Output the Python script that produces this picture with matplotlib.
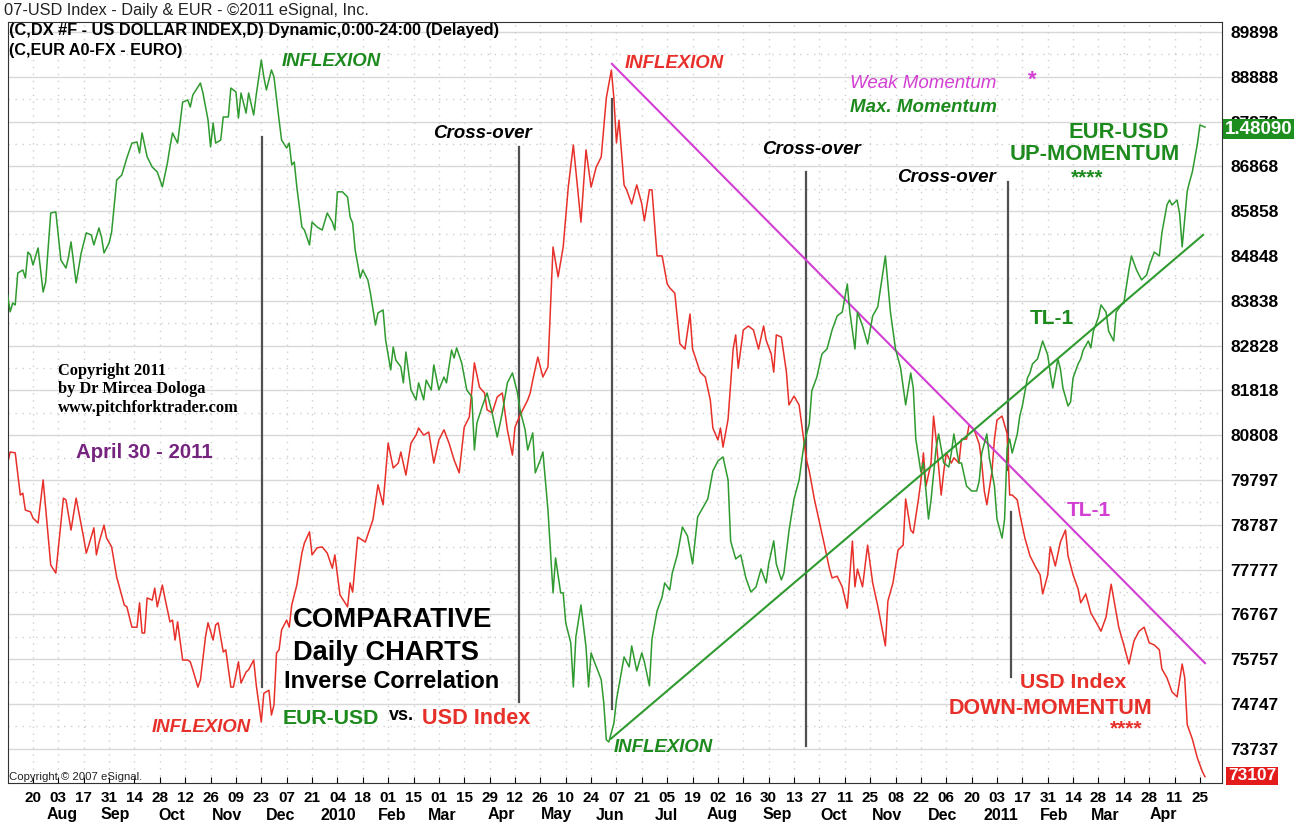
import matplotlib
matplotlib.use('Agg')
import matplotlib.pyplot as plt
import matplotlib.transforms as mtransforms
import pandas as pd
import numpy as np

W, H = 1308, 825

# USD index (red), bar index counted from 2009-07-20 (one bar per business day)
red_bar = [-10, -9, -7, -5, -4, -3, -1, 0, 2, 4, 7, 9, 12, 13, 15, 17, 20, 21, 22, 24, 25, 26, 28, 29, 31, 33, 36, 37,
           39, 41, 42, 43, 44, 45, 47, 48, 49, 51, 52, 54, 55, 56, 57, 59, 61, 62, 63, 65, 66, 68, 69, 71, 72, 73, 75,
           76, 78, 79, 81, 82, 84, 85, 87, 88, 90, 91, 93, 94, 95, 96, 97, 98, 100, 101, 102, 104, 106, 107, 109, 110,
           112, 114, 116, 118, 119, 121, 124, 125, 126, 128, 131, 134, 136, 138, 140, 142, 144, 145, 147, 149, 151,
           152, 154, 156, 158, 160, 162, 164, 166, 168, 170, 172, 174, 176, 178, 179, 181, 183, 185, 187, 189, 190,
           192, 195, 196, 197, 199, 201, 203, 205, 207, 209, 211, 213, 216, 218, 220, 222, 224, 226, 228, 229, 230,
           231, 233, 234, 236, 238, 240, 241, 243, 244, 246, 248, 250, 251, 253, 255, 257, 259, 260, 263, 265, 267,
           268, 270, 271, 272, 274, 276, 277, 278, 280, 282, 284, 286, 288, 289, 291, 292, 293, 295, 297, 298, 300,
           302, 304, 305, 306, 308, 310, 312, 314, 315, 317, 319, 321, 323, 324, 325, 327, 329, 331, 333, 336, 337,
           339, 341, 343, 344, 346, 347, 349, 350, 351, 352, 354, 355, 356, 358, 359, 360, 362, 363, 365, 366, 368,
           369, 371, 373, 374, 375, 376, 378, 379, 380, 382, 384, 385, 386, 388, 389, 391, 393, 395, 397, 398, 400,
           401, 403, 405, 407, 408, 410, 412, 413, 415, 417, 419, 421, 423, 425, 427, 428, 430, 432, 434, 436, 438,
           440, 442, 444, 445, 447, 449, 451, 453, 454, 455, 457, 459, 461, 462]
red_dx = [80.18, 80.43, 80.41, 79.46, 79.50, 79.12, 79.08, 78.94, 78.83, 79.80, 77.88, 77.70, 79.39, 79.35, 78.67,
          79.39, 78.49, 78.15, 78.33, 78.72, 78.11, 78.38, 78.78, 78.49, 78.29, 77.61, 76.98, 76.94, 76.48, 76.48,
          77.03, 76.35, 76.35, 77.14, 77.09, 77.36, 76.94, 77.43, 77.14, 76.60, 76.64, 76.19, 76.60, 75.74, 75.74,
          75.70, 75.52, 75.13, 75.29, 76.26, 76.58, 76.19, 76.53, 76.58, 75.92, 75.97, 75.13, 75.13, 75.70, 75.22,
          75.47, 75.52, 75.74, 75.18, 74.34, 74.99, 75.06, 74.50, 74.73, 75.90, 75.97, 76.42, 76.64, 76.48, 76.98,
          77.43, 78.15, 78.38, 78.63, 78.11, 78.27, 78.29, 78.15, 77.81, 78.11, 77.21, 76.94, 77.48, 77.27, 78.51,
          78.40, 78.90, 79.69, 79.24, 80.63, 80.07, 80.18, 80.43, 79.91, 80.63, 80.81, 80.97, 80.81, 80.88, 80.18,
          80.70, 80.93, 80.63, 80.25, 79.96, 80.99, 81.22, 82.44, 81.89, 81.76, 81.38, 81.31, 81.67, 81.76, 80.93,
          80.36, 80.99, 81.26, 81.60, 81.76, 82.05, 82.57, 82.12, 82.35, 85.05, 84.38, 85.05, 86.40, 87.35, 85.61,
          87.24, 86.40, 86.85, 87.08, 88.41, 89.04, 88.39, 87.40, 87.91, 86.45, 86.34, 86.02, 86.45, 86.02, 85.64,
          86.34, 86.34, 84.85, 84.85, 84.22, 84.13, 84.01, 82.87, 82.75, 83.54, 82.75, 82.23, 82.12, 81.60, 80.97,
          80.70, 80.97, 80.54, 81.17, 82.75, 83.07, 82.32, 83.18, 83.27, 83.18, 82.75, 83.27, 82.95, 82.64, 82.23,
          83.07, 83.02, 82.23, 81.49, 81.69, 81.49, 80.63, 80.23, 80.00, 79.37, 78.85, 78.33, 77.79, 77.59, 77.63,
          77.39, 76.91, 78.42, 77.39, 77.79, 77.39, 78.33, 77.48, 76.96, 76.06, 77.07, 77.48, 78.22, 78.33, 79.37,
          78.67, 78.60, 79.35, 79.78, 80.41, 79.66, 80.18, 81.24, 80.72, 79.46, 79.98, 80.41, 80.18, 80.30, 80.18,
          80.72, 80.72, 81.04, 80.93, 80.61, 80.18, 79.55, 79.24, 79.98, 80.72, 81.15, 81.24, 80.84, 79.46, 79.46,
          79.35, 79.03, 78.49, 78.09, 77.86, 77.66, 77.23, 77.66, 78.29, 77.86, 78.40, 78.67, 78.09, 77.66, 77.34,
          77.03, 77.23, 76.80, 76.60, 76.39, 76.71, 77.45, 76.80, 76.48, 76.08, 75.65, 76.17, 76.39, 76.48, 76.13,
          76.08, 75.97, 75.54, 75.34, 75.02, 74.91, 75.65, 75.34, 74.28, 73.96, 73.53, 73.22, 73.11]

# EUR/USD (green)
eur_bar = [-10, -9, -8, -7, -6, -4, -3, -2, -1, 0, 2, 4, 5, 7, 9, 11, 13, 14, 15, 17, 19, 21, 23, 24, 26, 27, 28, 30,
           31, 33, 35, 37, 39, 41, 42, 43, 45, 47, 49, 51, 53, 54, 55, 57, 59, 61, 62, 63, 65, 66, 67, 69, 70, 71, 72,
           74, 75, 77, 78, 80, 81, 82, 84, 85, 87, 88, 90, 91, 92, 94, 95, 97, 98, 100, 101, 102, 103, 104, 106, 107,
           109, 110, 112, 114, 116, 118, 119, 120, 122, 124, 125, 126, 127, 129, 130, 132, 133, 135, 136, 138, 139,
           141, 142, 143, 145, 146, 147, 149, 151, 152, 154, 155, 157, 158, 160, 162, 163, 165, 166, 167, 169, 171,
           173, 174, 175, 177, 179, 181, 183, 185, 187, 189, 191, 192, 194, 195, 197, 198, 200, 201, 203, 205, 206,
           208, 209, 210, 212, 213, 214, 216, 218, 219, 220, 221, 223, 224, 225, 226, 227, 229, 230, 233, 235, 236,
           238, 240, 241, 243, 244, 246, 248, 249, 251, 252, 254, 256, 258, 260, 262, 264, 266, 268, 270, 272, 274,
           275, 277, 279, 281, 283, 285, 287, 289, 290, 292, 293, 295, 296, 298, 300, 302, 304, 306, 307, 309, 311,
           313, 315, 317, 319, 321, 322, 324, 325, 327, 329, 331, 333, 336, 338, 340, 342, 344, 346, 347, 348, 350,
           351, 353, 354, 356, 357, 359, 361, 362, 363, 365, 366, 368, 370, 372, 373, 374, 376, 377, 379, 380, 382,
           383, 384, 385, 386, 388, 389, 390, 392, 393, 394, 396, 398, 400, 401, 402, 404, 405, 406, 408, 409, 410,
           412, 413, 414, 416, 417, 418, 420, 421, 423, 424, 426, 427, 429, 430, 432, 433, 435, 437, 439, 440, 442,
           444, 445, 447, 448, 449, 451, 452, 453, 455, 456, 457, 459, 460, 462]
eur_val = [1.4031, 1.3953, 1.3994, 1.3985, 1.4133, 1.4147, 1.4110, 1.4230, 1.4217, 1.4170, 1.4249, 1.4045, 1.4092,
           1.4411, 1.4416, 1.4193, 1.4156, 1.4207, 1.4277, 1.4087, 1.4226, 1.4319, 1.4309, 1.4263, 1.4342, 1.4300,
           1.4226, 1.4272, 1.4323, 1.4564, 1.4587, 1.4666, 1.4735, 1.4740, 1.4689, 1.4782, 1.4671, 1.4624, 1.4601,
           1.4532, 1.4643, 1.4717, 1.4782, 1.4735, 1.4925, 1.4935, 1.4902, 1.4958, 1.4995, 1.5013, 1.4967, 1.4842,
           1.4717, 1.4828, 1.4735, 1.4749, 1.4856, 1.4856, 1.4990, 1.4972, 1.4851, 1.4967, 1.4874, 1.4967, 1.4865,
           1.4958, 1.5120, 1.5041, 1.4981, 1.5074, 1.5041, 1.4842, 1.4749, 1.4712, 1.4735, 1.4634, 1.4647, 1.4532,
           1.4346, 1.4332, 1.4263, 1.4369, 1.4346, 1.4332, 1.4411, 1.4369, 1.4332, 1.4509, 1.4509, 1.4485, 1.4393,
           1.4365, 1.4240, 1.4110, 1.4147, 1.4101, 1.4041, 1.3892, 1.3948, 1.3962, 1.3823, 1.3684, 1.3790, 1.3730,
           1.3698, 1.3624, 1.3767, 1.3591, 1.3545, 1.3624, 1.3545, 1.3637, 1.3591, 1.3707, 1.3591, 1.3651, 1.3624,
           1.3776, 1.3739, 1.3786, 1.3716, 1.3591, 1.3559, 1.3313, 1.3438, 1.3512, 1.3577, 1.3485, 1.3373, 1.3485,
           1.3624, 1.3670, 1.3577, 1.3498, 1.3406, 1.3313, 1.3392, 1.3207, 1.3267, 1.3304, 1.3035, 1.2651, 1.2813,
           1.2651, 1.2651, 1.2512, 1.2419, 1.2215, 1.2447, 1.2595, 1.2400, 1.2215, 1.2373, 1.2340, 1.2280, 1.2248,
           1.2141, 1.1970, 1.1960, 1.2048, 1.2155, 1.2354, 1.2308, 1.2405, 1.2289, 1.2373, 1.2331, 1.2220, 1.2437,
           1.2567, 1.2632, 1.2697, 1.2664, 1.2743, 1.2827, 1.2956, 1.2915, 1.2785, 1.3003, 1.3044, 1.3086, 1.3216,
           1.3262, 1.3281, 1.3174, 1.2892, 1.2808, 1.2827, 1.2720, 1.2655, 1.2678, 1.2762, 1.2697, 1.2785, 1.2892,
           1.2785, 1.2711, 1.2743, 1.2938, 1.3086, 1.3174, 1.3346, 1.3434, 1.3587, 1.3651, 1.3758, 1.3781, 1.3869,
           1.3934, 1.3952, 1.4082, 1.3952, 1.3781, 1.3952, 1.3888, 1.3804, 1.3934, 1.3976, 1.4212, 1.3952, 1.3781,
           1.3693, 1.3522, 1.3670, 1.3600, 1.3364, 1.3211, 1.3253, 1.2993, 1.3081, 1.3322, 1.3387, 1.3253, 1.3234,
           1.3299, 1.3387, 1.3253, 1.3253, 1.3146, 1.3123, 1.3123, 1.3170, 1.3299, 1.3387, 1.3276, 1.3146, 1.2993,
           1.2905, 1.2993, 1.3322, 1.3364, 1.3299, 1.3387, 1.3471, 1.3517, 1.3647, 1.3670, 1.3712, 1.3735, 1.3818,
           1.3753, 1.3670, 1.3600, 1.3735, 1.3688, 1.3600, 1.3517, 1.3535, 1.3647, 1.3712, 1.3735, 1.3776, 1.3818,
           1.3786, 1.3864, 1.3929, 1.3985, 1.3952, 1.3864, 1.3818, 1.3952, 1.3985, 1.3994, 1.4147, 1.4212, 1.4147,
           1.4101, 1.4124, 1.4166, 1.4230, 1.4212, 1.4319, 1.4448, 1.4471, 1.4448, 1.4471, 1.4407, 1.4254, 1.4513,
           1.4559, 1.4601, 1.4731, 1.4819, 1.4809]

# price scale labels on the right
price_labels = ['73737', '74747', '75757', '76767', '77777', '78787', '79797', '80808', '81818',
                '82828', '83838', '84848', '85858', '86868', '87878', '88888', '89898']
last_eur = '1.48090'
last_dx = '73107'

dates = pd.bdate_range('2009-07-20', periods=470)

RED = '#e8302a'
GREEN = '#2f9a2f'
TGREEN = '#1d8a1d'
MAGENTA = '#d23fd2'

plt.rcParams['font.family'] = ['Liberation Sans', 'DejaVu Sans']

fig = plt.figure(figsize=(W / 100, H / 100), dpi=100)
ax = fig.add_axes([8 / W, 1 - 783 / H, (1222 - 8) / W, (783 - 22) / H])
ax.set_xlim(-9.85, 468.7)
ax.set_ylim(72.968, 90.123)

ax2 = ax.twinx()
ax2.set_ylim(1.1770, 1.5296)
ax2.set_yticks([])
for sp in ax2.spines.values():
    sp.set_visible(False)

# grid
vals = [int(s) / 1000 for s in price_labels]
for v in vals:
    ax.axhline(v, color='#d8d8d8', lw=1.0, zorder=0)
for v in vals:
    ax.axhline(v + 0.505, color='#cfcfcf', lw=1.0, ls=(0, (1, 4)), zorder=0)
for b in range(0, 461, 10):
    ax.axvline(b, color='#cfcfcf', lw=1.0, ls=(0, (1, 4)), zorder=0)

ax.set_yticks(vals)
ax.set_yticklabels(price_labels, fontsize=12.5, fontweight='bold')
ax.yaxis.set_ticks_position('right')
ax.tick_params(axis='y', length=0, pad=6, labelright=True, labelleft=False)

ticks = list(range(0, 461, 10))
ax.set_xticks(ticks)
ax.set_xticklabels([dates[t].strftime('%d') for t in ticks], fontsize=11, fontweight='bold')
ax.tick_params(axis='x', length=4, direction='in', pad=6)

# month labels
trans = mtransforms.blended_transform_factory(ax.transData, fig.transFigure)
s = pd.Series(range(len(dates)), index=dates)
firsts = s.groupby([dates.year, dates.month]).min()
for (yr, mo), b in firsts.items():
    if b < 5 or b > 462:
        continue
    lab = str(yr) if mo == 1 else pd.Timestamp(year=yr, month=mo, day=1).strftime('%b')
    ax.text(b + 1.5, 1 - 815 / H, lab, transform=trans, ha='center', va='center', fontsize=11.5, fontweight='bold')

for sp in ax.spines.values():
    sp.set_color('#333333')

# vertical marker lines
vlines = [(90.3, 75.13, 87.53), (191.6, 74.79, 87.31), (228.2, 74.64, 88.39), (304.7, 73.80, 86.74),
          (384.3, 80.02, 86.52), (385.5, 75.36, 79.08)]
for xb, y0, y1 in vlines:
    ax.plot([xb, xb], [y0, y1], color='#505050', lw=1.6, zorder=1)

ax.plot(red_bar, red_dx, color=RED, lw=1.1, zorder=2)
# TL-1 on the dollar index
ax.plot([228.2, 462.0], [89.18, 75.67], color=MAGENTA, lw=1.5, zorder=3)

ax2.plot(eur_bar, eur_val, color=GREEN, lw=1.1, zorder=2)
ax2.plot([227.8, 461.2], [1.1975, 1.4309], color=GREEN, lw=1.5, zorder=3)


def ptxt(x, y, txt, **kw):
    kw.setdefault('va', 'center')
    kw.setdefault('ha', 'left')
    fig.text(x / W, 1 - y / H, txt, **kw)


ptxt(4, 11, '07-USD Index - Daily & EUR - \u00a92011 eSignal, Inc.', fontsize=11.8, color='#222222')
ptxt(9, 31, '(C,DX #F - US DOLLAR INDEX,D) Dynamic,0:00-24:00 (Delayed)', fontsize=11.8, fontweight='bold')
ptxt(9, 50, '(C,EUR A0-FX - EURO)', fontsize=11.7, fontweight='bold')

bi = dict(fontweight='bold', style='italic')
ptxt(282, 61, 'INFLEXION', color=TGREEN, fontsize=13.4, **bi)
ptxt(625, 64, 'INFLEXION', color=RED, fontsize=13.4, **bi)
ptxt(152, 728, 'INFLEXION', color=RED, fontsize=13.4, **bi)
ptxt(614, 748, 'INFLEXION', color=TGREEN, fontsize=13.4, **bi)
ptxt(433, 133, 'Cross-over', color='black', fontsize=13.5, **bi)
ptxt(762, 149, 'Cross-over', color='black', fontsize=13.5, **bi)
ptxt(897, 177, 'Cross-over', color='black', fontsize=13.5, **bi)

ptxt(850, 83, 'Weak Momentum', color=MAGENTA, fontsize=13.5, style='italic')
ptxt(1028, 80, '*', color=MAGENTA, fontsize=16, fontweight='bold')
ptxt(850, 107, 'Max. Momentum', color=TGREEN, fontsize=13.5, **bi)

ptxt(1119, 132, 'EUR-USD', color=TGREEN, fontsize=15.8, fontweight='bold', ha='center')
ptxt(1095, 155, 'UP-MOMENTUM', color=TGREEN, fontsize=15.8, fontweight='bold', ha='center')
ptxt(1087, 178, '****', color=TGREEN, fontsize=15, fontweight='bold', ha='center')
ptxt(1052, 318, 'TL-1', color=TGREEN, fontsize=15, fontweight='bold', ha='center')
ptxt(1089, 511, 'TL-1', color=MAGENTA, fontsize=15, fontweight='bold', ha='center')

ptxt(1073, 683, 'USD Index', color=RED, fontsize=15.3, fontweight='bold', ha='center')
ptxt(1051, 708, 'DOWN-MOMENTUM', color=RED, fontsize=15.5, fontweight='bold', ha='center')
ptxt(1126, 729, '****', color=RED, fontsize=15, fontweight='bold', ha='center')

serif = dict(family=['Liberation Serif', 'DejaVu Serif'], fontweight='bold', fontsize=11.8)
ptxt(58, 371, 'Copyright 2011', **serif)
ptxt(58, 389, 'by Dr Mircea Dologa', **serif)
ptxt(58, 408, 'www.pitchforktrader.com', **serif)
ptxt(76, 453, 'April 30 - 2011', color='#76237f', fontsize=14.7, fontweight='bold')

ptxt(393, 620, 'COMPARATIVE', fontsize=19.8, fontweight='bold', ha='center')
ptxt(386, 653, 'Daily CHARTS', fontsize=19.6, fontweight='bold', ha='center')
ptxt(392, 682, 'Inverse Correlation', fontsize=17, fontweight='bold', ha='center')
ptxt(283, 718, 'EUR-USD', color=TGREEN, fontsize=15.3, fontweight='bold')
ptxt(389, 716, 'vs.', color='black', fontsize=13, fontweight='bold')
ptxt(422, 718, 'USD Index', color=RED, fontsize=15.6, fontweight='bold')

ptxt(9, 777, 'Copyright \u00a9 2007 eSignal.', fontsize=8.2, color='#222222')

ptxt(1225, 129, last_eur, color='white', fontsize=13.5, fontweight='bold',
     bbox=dict(facecolor='#1e8f1e', edgecolor='none', pad=1.2))
ptxt(1228, 776, last_dx, color='white', fontsize=12.5, fontweight='bold',
     bbox=dict(facecolor='#e41b1b', edgecolor='none', pad=1.2))

fig.savefig('out.png', dpi=100)
